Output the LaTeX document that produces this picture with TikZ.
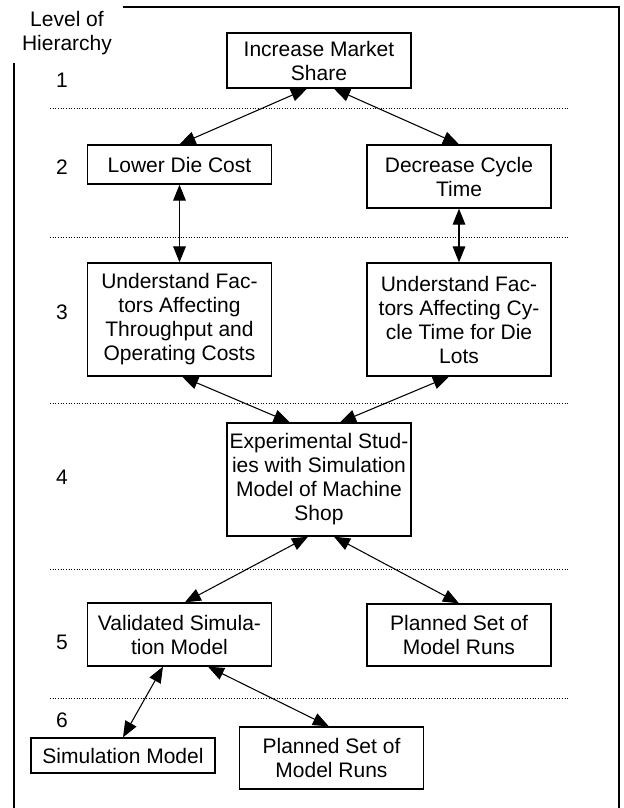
\documentclass[tikz,border=0pt]{standalone}
\usepackage{fontspec}
\setmainfont{Liberation Sans}
\usetikzlibrary{arrows.meta}
\tikzset{
  txt/.style={font=\fontsize{15.75}{18}\selectfont},
  box/.style={txt,draw,line width=1pt,align=center,inner sep=1pt,minimum width=138pt},
  ar/.style={{Triangle[length=12pt,width=9.5pt]}-{Triangle[length=12pt,width=9.5pt]},line width=0.8pt},
  dots/.style={line width=0.75pt,dash pattern=on 0.75pt off 1.25pt}
}

\begin{document}
\begin{tikzpicture}[x=0.75pt,y=-0.75pt]
\useasboundingbox (0,0) rectangle (624,808);
% frame and level column
\draw[line width=1.2pt] (14,63)--(14,808) (123,7)--(619,7)--(619,808);
\node[txt,align=center] (head) at (67,33) {Level of\\Hierarchy};
\foreach \n/\y in {1/80,2/167,3/312,4/477,5/642,6/720}
  \node[txt] (lv\n) at (62,\y) {\n};
\foreach \y in {108,237,403,569,698}
  \draw[dots] (50,\y)--(568,\y);
% goals
\node[box,minimum height=41.25pt] (share) at (319,60.5) {Increase Market\\Share};
\node[box,minimum height=29.25pt] (cost) at (179.5,164.5) {Lower Die Cost};
\node[box,minimum height=47.25pt] (cycle) at (459,176.5) {Decrease Cycle\\Time};
\node[box,minimum height=84.75pt] (fac1) at (179.5,319.5) {Understand Fac-\\tors Affecting\\Throughput and\\Operating Costs};
\node[box,minimum height=84.75pt] (fac2) at (459,319.5) {Understand Fac-\\tors Affecting Cy-\\cle Time for Die\\Lots};
\node[box,minimum height=84.75pt] (expt) at (319,479.5) {Experimental Stud-\\ies with Simulation\\Model of Machine\\Shop};
\node[box,minimum height=47.25pt] (valid) at (179.5,634.5) {Validated Simula-\\tion Model};
\node[box,minimum height=46.5pt] (runs1) at (459,635) {Planned Set of\\Model Runs};
\node[box,minimum height=26.25pt] (simm) at (123,755.5) {Simulation Model};
\node[box,minimum height=46.5pt] (runs2) at (331.5,758) {Planned Set of\\Model Runs};
% links
\draw[ar] ([xshift=-9pt]share.south) -- (cost.north);
\draw[ar] ([xshift=11.25pt]share.south) -- (cycle.north);
\draw[ar] (cost.south) -- (fac1.north);
\draw[ar] (cycle.south) -- (fac2.north);
\draw[ar] ([xshift=2pt]fac1.south) -- ([xshift=-22pt]expt.north);
\draw[ar] ([xshift=-7.5pt]fac2.south) -- ([xshift=15.75pt]expt.north);
\draw[ar] ([xshift=-8.25pt]expt.south) -- ([xshift=4pt]valid.north);
\draw[ar] ([xshift=11.25pt]expt.south) -- (runs1.north);
\draw[ar] ([xshift=-12.4pt]valid.south) -- (simm.north);
\draw[ar] ([xshift=21.4pt]valid.south) -- ([xshift=-2pt]runs2.north);
\end{tikzpicture}
\end{document}
